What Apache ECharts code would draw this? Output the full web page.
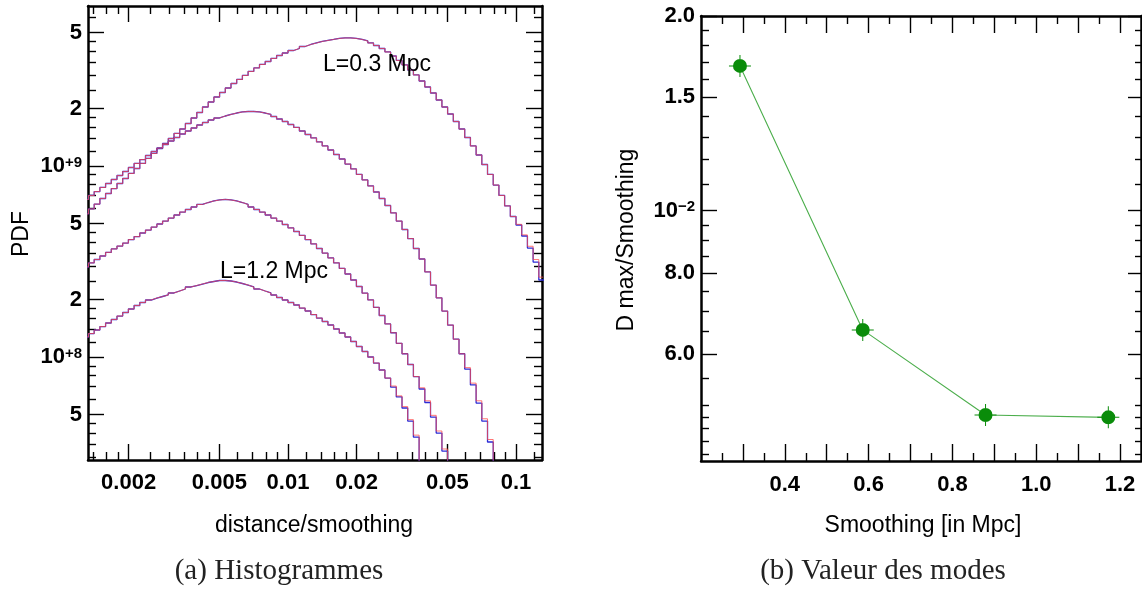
<!DOCTYPE html>
<html><head><meta charset="utf-8">
<script src="https://cdn.jsdelivr.net/npm/echarts@6/dist/echarts.min.js"></script>
<style>html,body{margin:0;padding:0;background:#fff;}#c{width:1142px;height:590px;}</style>
</head><body><div id="c"></div>
<script>
// ---------- DATA: panel (a) histograms (PDF in units of 1e8), log-spaced bins ----------
const binLogStart = -2.9;      // log10 of first bin lower edge
const binLogWidth = 0.025;     // bin width in log10
const pdfUnit = 1e8;

const pdfL03 = [5.61,5.96,6.32,6.76,7.18,7.62,8.10,8.60,9.14,9.70,
10.31,10.95,11.63,12.35,13.12,13.93,14.80,15.62,16.69,17.84,
19.06,20.36,21.63,22.97,24.26,25.61,27.04,28.38,29.78,31.25,
32.60,34.00,35.25,36.55,37.89,39.05,40.24,41.22,42.23,43.26,
44.06,44.86,45.41,45.96,46.52,46.80,46.80,46.52,45.96,45.14,
44.06,42.74,41.22,39.53,37.66,35.68,33.80,31.81,29.96,27.86,
25.92,24.11,22.16,20.36,18.72,17.10,15.62,14.10,12.73,11.42,
10.18,9.03,7.95,7.01,6.18,5.44,4.91,4.30,3.72,3.14,2.53];
const pdfL06 = [6.68,7.01,7.35,7.72,8.10,8.50,8.92,9.36,9.82,10.31,
10.81,11.35,11.91,12.42,12.96,13.52,14.10,14.71,15.25,15.81,
16.39,16.89,17.41,17.84,18.27,18.61,18.94,19.18,19.29,19.29,
19.18,18.94,18.61,18.16,17.62,17.10,16.49,15.91,15.25,14.62,
14.02,13.36,12.73,12.13,11.49,10.88,10.24,9.65,9.03,8.45,
7.86,7.31,6.76,6.21,5.68,5.15,4.65,4.17,3.70,3.26,
2.79,2.38,2.04,1.74,1.47,1.24,1.04,0.865,0.714,0.574,
0.462,0.359,0.241];
const pdfL09 = [2.96,3.11,3.24,3.38,3.53,3.68,3.81,3.95,4.12,4.27,
4.46,4.62,4.79,4.97,5.15,5.34,5.54,5.74,5.92,6.10,
6.29,6.44,6.56,6.64,6.68,6.64,6.56,6.44,6.29,6.10,
5.92,5.74,5.54,5.34,5.15,4.94,4.74,4.54,4.33,4.12,
3.91,3.70,3.50,3.30,3.11,2.91,2.72,2.53,2.34,2.16,
1.99,1.82,1.65,1.49,1.34,1.18,1.04,0.914,0.790,0.680,
0.578,0.485,0.400,0.322,0.227];
const pdfL12 = [1.273,1.327,1.385,1.444,1.507,1.572,1.639,1.710,1.784,1.861,
1.929,1.988,2.036,2.074,2.112,2.164,2.216,2.270,2.326,2.368,
2.411,2.455,2.485,2.515,2.515,2.500,2.470,2.426,2.382,2.326,
2.270,2.216,2.164,2.112,2.049,1.988,1.929,1.872,1.805,1.741,
1.669,1.600,1.534,1.471,1.402,1.336,1.273,1.206,1.135,1.069,
1.000,0.930,0.855,0.776,0.696,0.618,0.541,0.462,0.381,0.256];
// second (red) histograms: identical to the eye except in the tails
const pdfL03Red = pdfL03.slice(0, 76).concat([4.95,4.36,3.80,3.24,2.62]);
const pdfL06Red = pdfL06.slice(0, 67).concat([0.88,0.73,0.59,0.475,0.37,0.25]);
const pdfL09Red = pdfL09.slice(0, 59).concat([0.69,0.59,0.495,0.41,0.33,0.23]);
const pdfL12Red = pdfL12.slice(0, 54).concat([0.705,0.626,0.55,0.47,0.39,0.26]);

// ticks panel (a)
const pdfXLabelVals = [0.002,0.005,0.01,0.02,0.05,0.1];
const pdfXLabelText = ['0.002','0.005','0.01','0.02','0.05','0.1'];
const pdfXMinor = [0.0014,0.0016,0.0018,0.0025,0.003,0.0035,0.004,0.0045,0.006,0.007,0.008,0.009,
  0.012,0.014,0.016,0.018,0.025,0.03,0.035,0.04,0.045,0.06,0.07,0.08,0.09,0.12];
const pdfYLabelVals = [5e7,1e8,2e8,5e8,1e9,2e9,5e9];
const pdfYLabelText = ['5','10^+8','2','5','10^+9','2','5'];
const pdfYMinor = [3e7,3.5e7,4e7,4.5e7,6e7,7e7,8e7,9e7,1.2e8,1.4e8,1.6e8,1.8e8,
  2.5e8,3e8,3.5e8,4e8,4.5e8,6e8,7e8,8e8,9e8,1.2e9,1.4e9,1.6e9,1.8e9,
  2.5e9,3e9,3.5e9,4e9,4.5e9,6e9];

// ---------- DATA: panel (b) ----------
const smoothing = [0.293, 0.586, 0.879, 1.172];
const dmaxRatio = [0.01675, 0.00654, 0.00483, 0.00479];
const smoothMajor = [0.3,0.4,0.5,0.6,0.7,0.8,0.9,1.0,1.1,1.2];
const smoothMinor = [0.25,0.35,0.45,0.55,0.65,0.75,0.85,0.95,1.05,1.15];
const smoothLabelVals = [0.4,0.6,0.8,1.0,1.2];
const smoothLabelText = ['0.4','0.6','0.8','1.0','1.2'];
const ratioLabelVals = [0.006,0.008,0.01,0.015,0.02];
const ratioLabelText = ['6.0','8.0','10^\u22122','1.5','2.0'];
const ratioMinor = [0.0042,0.0044,0.0046,0.0048,0.005,0.0055,0.0065,0.007,0.0075,0.0085,0.009,0.0095,
  0.011,0.012,0.013,0.014,0.016,0.017,0.018,0.019];

// ---------- build ----------
const FONT = 'Liberation Sans';
const RICH = {
  b: {fontSize: 22, fontWeight: 'bold', fontFamily: FONT, color: '#000'},
  s: {fontSize: 15, fontWeight: 'bold', fontFamily: FONT, color: '#000', verticalAlign: 'top'}
};
function richLabel(s) {
  const p = s.split('^');
  return p.length > 1 ? '{b|' + p[0] + '}{s|' + p[1] + '}' : '{b|' + s + '}';
}
function fmtFrom(vals, texts) {
  return function (v) {
    for (let i = 0; i < vals.length; i++) if (Math.abs(v / vals[i] - 1) < 1e-6) return richLabel(texts[i]);
    return '';
  };
}
function histPoints(vals) {
  const pts = [];
  for (let k = 0; k < vals.length; k++) pts.push([Math.pow(10, binLogStart + binLogWidth * k), vals[k] * pdfUnit]);
  pts.push([Math.pow(10, binLogStart + binLogWidth * vals.length), vals[vals.length - 1] * pdfUnit]);
  return pts;
}
function axis(o) {
  const a = {
    type: o.type, gridIndex: o.grid, position: o.pos, min: o.min, max: o.max, silent: true,
    axisLine: {show: !!o.line, onZero: false, lineStyle: {color: '#000', width: 2.5}},
    axisTick: {show: true, inside: true, length: o.len, customValues: o.ticks, lineStyle: {color: '#000', width: 1.4}},
    splitLine: {show: false}, minorTick: {show: false}, minorSplitLine: {show: false},
    axisLabel: {show: false}
  };
  if (o.type === 'log') a.logBase = 10;
  if (o.labels) {
    a.axisLabel = {show: true, customValues: o.labels, formatter: o.fmt, margin: o.margin,
      color: '#000', fontFamily: FONT, fontSize: 22, fontWeight: 'bold', rich: RICH, hideOverlap: false};
  }
  return a;
}
const pdfXMin = 0.001327, pdfXMax = 0.130, pdfYMin = 2.89e7, pdfYMax = 6.88e9;
const smXMin = 0.2, smXMax = 1.25, rYMin = 0.00410, rYMax = 0.02001;

const xAxes = [
  axis({type:'log', grid:0, pos:'bottom', min:pdfXMin, max:pdfXMax, line:true, len:16, ticks:pdfXLabelVals, labels:pdfXLabelVals, fmt:fmtFrom(pdfXLabelVals,pdfXLabelText), margin:12}),
  axis({type:'log', grid:0, pos:'bottom', min:pdfXMin, max:pdfXMax, len:8, ticks:pdfXMinor}),
  axis({type:'log', grid:0, pos:'top', min:pdfXMin, max:pdfXMax, line:true, len:16, ticks:pdfXLabelVals}),
  axis({type:'log', grid:0, pos:'top', min:pdfXMin, max:pdfXMax, len:8, ticks:pdfXMinor}),
  axis({type:'value', grid:1, pos:'bottom', min:smXMin, max:smXMax, line:true, len:17, ticks:smoothMajor, labels:smoothLabelVals, fmt:fmtFrom(smoothLabelVals,smoothLabelText), margin:13}),
  axis({type:'value', grid:1, pos:'bottom', min:smXMin, max:smXMax, len:8, ticks:smoothMinor}),
  axis({type:'value', grid:1, pos:'top', min:smXMin, max:smXMax, line:true, len:17, ticks:smoothMajor}),
  axis({type:'value', grid:1, pos:'top', min:smXMin, max:smXMax, len:8, ticks:smoothMinor})
];
const yAxes = [
  axis({type:'log', grid:0, pos:'left', min:pdfYMin, max:pdfYMax, line:true, len:16, ticks:pdfYLabelVals, labels:pdfYLabelVals, fmt:fmtFrom(pdfYLabelVals,pdfYLabelText), margin:6}),
  axis({type:'log', grid:0, pos:'left', min:pdfYMin, max:pdfYMax, len:8, ticks:pdfYMinor}),
  axis({type:'log', grid:0, pos:'right', min:pdfYMin, max:pdfYMax, line:true, len:16, ticks:pdfYLabelVals}),
  axis({type:'log', grid:0, pos:'right', min:pdfYMin, max:pdfYMax, len:8, ticks:pdfYMinor}),
  axis({type:'log', grid:1, pos:'left', min:rYMin, max:rYMax, line:true, len:16, ticks:ratioLabelVals, labels:ratioLabelVals, fmt:fmtFrom(ratioLabelVals,ratioLabelText), margin:6}),
  axis({type:'log', grid:1, pos:'left', min:rYMin, max:rYMax, len:8, ticks:ratioMinor}),
  axis({type:'log', grid:1, pos:'right', min:rYMin, max:rYMax, line:true, len:13, ticks:ratioLabelVals}),
  axis({type:'log', grid:1, pos:'right', min:rYMin, max:rYMax, len:6, ticks:ratioMinor})
];

function histSeries(vals, color, opacity, width) {
  return {type:'line', xAxisIndex:0, yAxisIndex:0, step:'end', showSymbol:false, symbol:'none',
    data: histPoints(vals), lineStyle:{color:color, width:width, opacity:opacity}, silent:true, clip:true};
}
const BLUE = '#2b2bd6', RED = '#ff4a4a';
const series = [
  histSeries(pdfL03, BLUE, 1, 1.3), histSeries(pdfL03Red, RED, 0.75, 1),
  histSeries(pdfL06, BLUE, 1, 1.3), histSeries(pdfL06Red, RED, 0.75, 1),
  histSeries(pdfL09, BLUE, 1, 1.3), histSeries(pdfL09Red, RED, 0.75, 1),
  histSeries(pdfL12, BLUE, 1, 1.3), histSeries(pdfL12Red, RED, 0.75, 1),
  {type:'line', xAxisIndex:4, yAxisIndex:4, data: smoothing.map((s, i) => [s, dmaxRatio[i]]),
   symbol:'path://M-7,0A7,7,0,1,1,7,0A7,7,0,1,1,-7,0ZM-0.5,-11L0.5,-11L0.5,11L-0.5,11ZM-11,-0.5L11,-0.5L11,0.5L-11,0.5Z',
   symbolSize:22, itemStyle:{color:'#0a8c0a'}, lineStyle:{color:'#4cae4c', width:1.1}, silent:true}
];

const T = {fill:'#000', fontFamily:FONT, fontSize:23};
const C = {fill:'#222', fontFamily:'Liberation Serif', fontSize:29};
const graphic = [
  {type:'text', x:22, y:234, rotation:Math.PI/2, style:Object.assign({}, T, {text:'PDF', align:'center', verticalAlign:'middle'})},
  {type:'text', x:314, y:526, style:Object.assign({}, T, {text:'distance/smoothing', align:'center', verticalAlign:'middle'})},
  {type:'text', x:279, y:571, style:Object.assign({}, C, {text:'(a) Histogrammes', align:'center', verticalAlign:'middle'})},
  {type:'text', x:377, y:65, z:10, style:Object.assign({}, T, {text:'L=0.3 Mpc', align:'center', verticalAlign:'middle'})},
  {type:'text', x:274, y:272, z:10, style:Object.assign({}, T, {text:'L=1.2 Mpc', align:'center', verticalAlign:'middle'})},
  {type:'text', x:627, y:240, rotation:Math.PI/2, style:Object.assign({}, T, {text:'D max/Smoothing', align:'center', verticalAlign:'middle'})},
  {type:'text', x:923, y:526, style:Object.assign({}, T, {text:'Smoothing [in Mpc]', align:'center', verticalAlign:'middle'})},
  {type:'text', x:883, y:571, style:Object.assign({}, C, {text:'(b) Valeur des modes', align:'center', verticalAlign:'middle'})}
];

const chart = echarts.init(document.getElementById('c'), null, {renderer:'canvas'});
chart.setOption({
  animation:false, backgroundColor:'#fff',
  grid:[{left:88, top:6, width:454, height:454, outerBoundsMode:'none', containLabel:false},
        {left:701, top:16, width:440, height:445, outerBoundsMode:'none', containLabel:false}],
  xAxis:xAxes, yAxis:yAxes, series:series, graphic:graphic
});
</script></body></html>
